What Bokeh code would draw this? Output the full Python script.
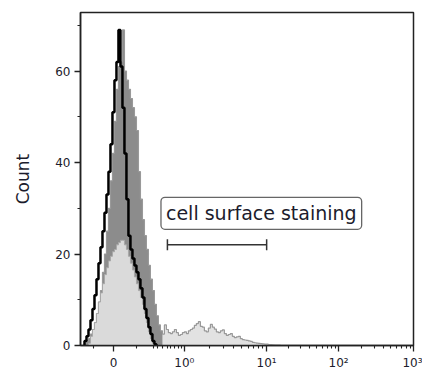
import numpy as np
from bokeh.plotting import figure
from bokeh.models import Range1d, FixedTicker, Label, Whisker, TeeHead, ColumnDataSource
from bokeh.embed import file_html
from bokeh.resources import INLINE

# ---- data (x in display channels 0..1000, histogram bins of 6 channels) ----
BIN_START = 12
BIN_WIDTH = 6

black_counts = [1, 2, 3.5, 5.5, 8, 11, 14.5, 18, 21.5, 25, 29, 33, 38, 44, 51,
                58, 62, 69, 61, 52, 42, 32, 24, 21, 19, 17.5, 16, 14.5, 12.5,
                10.5, 8, 6, 4, 2.5, 1, 0.3]

gray_counts = [0.5, 1, 1.5, 2.5, 3.5, 5, 7, 9.5, 12, 16, 20, 25, 30, 36, 42,
               49, 56, 61, 62, 69, 60, 58, 56, 54, 52, 50, 47, 38, 32, 27.5,
               24, 21, 17.5, 14.5, 12, 9, 6.5, 4.5, 3.2, 2.5, 4.5, 3.5, 2.8,
               2.6, 3, 3.5, 2.8, 2.2, 2.4, 2.8, 3, 2.6, 3.2, 3.5, 3.8, 4.4,
               4.8, 5.2, 4.2, 4, 3.2, 3, 3.8, 4.6, 4, 3.6, 3, 2.8, 3.2, 3.4,
               2.6, 2.2, 2.4, 2.6, 2, 1.7, 1.9, 2, 1.5, 1.3, 1.2, 1.1, 1, 0.9,
               0.7, 0.6, 0.5, 0.45, 0.4, 0.35, 0.3, 0.3, 0.2, 0.2, 0.15, 0.1,
               0.1, 0.1]
GRAY_TAIL_FROM = 39  # bin index where the sparse tail begins

light_counts = [0, 0, 0.5, 2, 3.5, 5, 7, 9.5, 11.5, 13.5, 15.5, 17, 18.5, 19.5,
                20.5, 21, 22, 22.5, 23, 23, 22, 21, 19.5, 18, 16.5, 15, 13.5,
                12, 10.5, 9, 7, 5, 3, 1.5, 0.5]

# axis ticks (display channels)
major_ticks = [99, 312, 559, 775, 1000]
major_labels = ["0", "10\u2070", "10\u00b9", "10\u00b2", "10\u00b3"]
linear_minor = [39, 168, 219, 231, 246, 261, 270, 282, 294, 303]

gate = (261, 559)
gate_level = 22
gate_text = "cell surface staining"

y_major = [0, 20, 40, 60]
y_minor = [10, 30, 50, 70]


def edges(n, start_bin=0):
    return BIN_START + BIN_WIDTH * (start_bin + np.arange(n + 1))


def step_xy(counts, start_bin=0):
    e = edges(len(counts), start_bin)
    x = np.concatenate([[e[0]], e])
    y = np.concatenate([[0], counts, [0]])
    return x, y


def fill(counts, color, start_bin=0):
    e = edges(len(counts), start_bin)
    p.varea_step(x=e, y1=np.zeros(len(e)), y2=list(counts) + [0],
                 step_mode="after", fill_color=color)


log_minor = []
for lo, hi in zip(major_ticks[1:-1], major_ticks[2:]):
    for m in range(2, 10):
        log_minor.append(lo + np.log10(m) * (hi - lo))

p = figure(width=422, height=372, output_backend="svg", toolbar_location=None,
           x_range=Range1d(0, 1000), y_range=Range1d(0, 72.8),
           min_border_left=80, min_border_right=9, min_border_top=12,
           min_border_bottom=26)
p.grid.visible = False
p.outline_line_color = "#222222"
p.outline_line_width = 1.5

# dark gray histogram (dense part dark, sparse tail light)
fill(gray_counts[:GRAY_TAIL_FROM + 1], "#8c8c8c")
fill(gray_counts[GRAY_TAIL_FROM:], "#e2e2e2", GRAY_TAIL_FROM)
gx, gy = step_xy(gray_counts)
p.step(x=gx, y=gy, mode="after", line_color="#999999", line_width=1.2)

# light gray histogram
fill(light_counts, "#dadada")
lx, ly = step_xy(light_counts)
p.step(x=lx, y=ly, mode="after", line_color="#a8a8a8", line_width=1)

# black histogram outline
bx, by = step_xy(black_counts)
p.step(x=bx, y=by, mode="after", line_color="black", line_width=2.5)

# gate
src = ColumnDataSource(dict(base=[gate_level], lower=[gate[0]], upper=[gate[1]]))
w = Whisker(source=src, base="base", lower="lower", upper="upper",
            dimension="width", line_color="#333333", line_width=1.5,
            lower_head=TeeHead(size=11, line_color="#333333", line_width=1.5),
            upper_head=TeeHead(size=11, line_color="#333333", line_width=1.5))
p.add_layout(w)

lab = Label(x=543, y=28.9, text=gate_text, text_align="center",
            text_baseline="middle", text_font="DejaVu Sans", text_font_size="19px",
            text_color="#1c1c2c", padding=5, border_radius=4,
            border_line_color="#666666", border_line_width=1.3,
            background_fill_color="white")
p.add_layout(lab)

# axes
xa = p.xaxis[0]
xa.ticker = FixedTicker(ticks=major_ticks, minor_ticks=linear_minor + log_minor)
xa.major_label_overrides = {t: l for t, l in zip(major_ticks, major_labels)}
ya = p.yaxis[0]
ya.ticker = FixedTicker(ticks=y_major, minor_ticks=y_minor)
ya.axis_label = "Count"

for ax in (xa, ya):
    ax.axis_line_color = "#222222"
    ax.axis_line_width = 1.5
    ax.major_tick_line_color = "#222222"
    ax.minor_tick_line_color = "#222222"
    ax.major_tick_line_width = 1.3
    ax.minor_tick_line_width = 1.1
    ax.major_tick_in = 0
    ax.major_tick_out = 6
    ax.minor_tick_in = 0
    ax.minor_tick_out = 3
    ax.major_label_text_font = "DejaVu Sans"
    ax.major_label_text_font_size = "12px"
    ax.major_label_text_color = "#1c1c2c"

xa.major_label_standoff = 4
ya.major_label_standoff = 4

ya.axis_label_text_font = "DejaVu Sans"
ya.axis_label_text_font_size = "17px"
ya.axis_label_text_font_style = "normal"
ya.axis_label_text_color = "#1c1c2c"
ya.axis_label_standoff = 19

open("out.html", "w").write(file_html(p, INLINE))
